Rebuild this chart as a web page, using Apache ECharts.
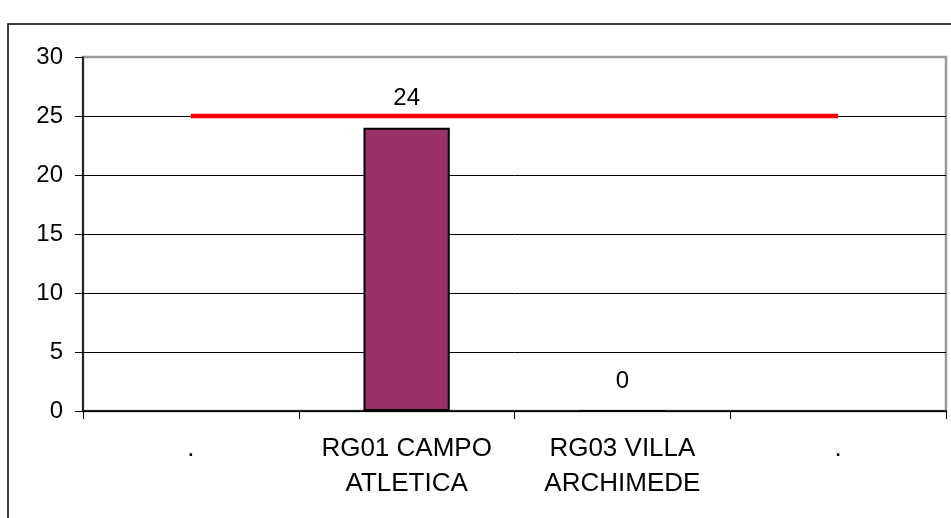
<!DOCTYPE html>
<html>
<head>
<meta charset="utf-8">
<script src="https://cdn.jsdelivr.net/npm/echarts@6/dist/echarts.min.js"></script>
<style>
  html, body { margin: 0; padding: 0; background: #fff; }
  #chart { width: 951px; height: 518px; }
</style>
</head>
<body>
<div id="chart"></div>
<script>
/* dati del grafico */
var categorie = ['.', 'RG01 CAMPO\nATLETICA', 'RG03 VILLA\nARCHIMEDE', '.'];
var valoriBarre = ['-', 24, 0, '-'];
var soglia = [25, 25, 25, 25];
var yTicks = { min: 0, max: 30, step: 5 };

var font = '"Liberation Sans", Arial, sans-serif';

var myChart = echarts.init(document.getElementById('chart'));

var option = {
	animation: false,
	backgroundColor: '#fff',
	// cornice esterna
	graphic: [{
		type: 'rect',
		shape: { x: 8, y: 24, width: 1000, height: 600 },
		style: { fill: 'none', stroke: '#000', lineWidth: 1.5 },
		z: -10
	}],
	grid: {
		left: 83,
		right: 5,
		top: 57,
		bottom: 107,
		show: true,
		borderColor: '#999',
		borderWidth: 2.5,
		backgroundColor: '#fff'
	},
	xAxis: {
		type: 'category',
		data: categorie,
		boundaryGap: true,
		axisLine: { lineStyle: { color: '#000', width: 1.5 } },
		axisTick: { show: true, length: 8, lineStyle: { color: '#000' } },
		axisLabel: {
			color: '#000',
			fontFamily: font,
			fontSize: 26,
			lineHeight: 35,
			margin: 20,
			interval: 0
		},
		splitLine: { show: false }
	},
	yAxis: {
		type: 'value',
		min: yTicks.min,
		max: yTicks.max,
		interval: yTicks.step,
		axisLine: { show: true, lineStyle: { color: '#000', width: 1.5 } },
		axisTick: { show: true, length: 8, lineStyle: { color: '#000' } },
		axisLabel: {
			color: '#000',
			fontFamily: font,
			fontSize: 24,
			margin: 20
		},
		splitLine: {
			show: true,
			showMaxLine: false,
			lineStyle: { color: '#000', width: 1 }
		}
	},
	series: [{
		name: 'valore',
		type: 'bar',
		data: valoriBarre,
		barWidth: '40%',
		itemStyle: {
			color: '#993366',
			borderColor: '#000',
			borderWidth: 2
		},
		label: {
			show: true,
			position: 'top',
			distance: 17,
			color: '#000',
			fontFamily: font,
			fontSize: 24
		},
		z: 2
	}, {
		name: 'soglia',
		type: 'line',
		data: soglia,
		symbol: 'none',
		lineStyle: { color: '#ff0000', width: 4.5 },
		z: 3
	}]
};

myChart.setOption(option);
</script>
</body>
</html>
